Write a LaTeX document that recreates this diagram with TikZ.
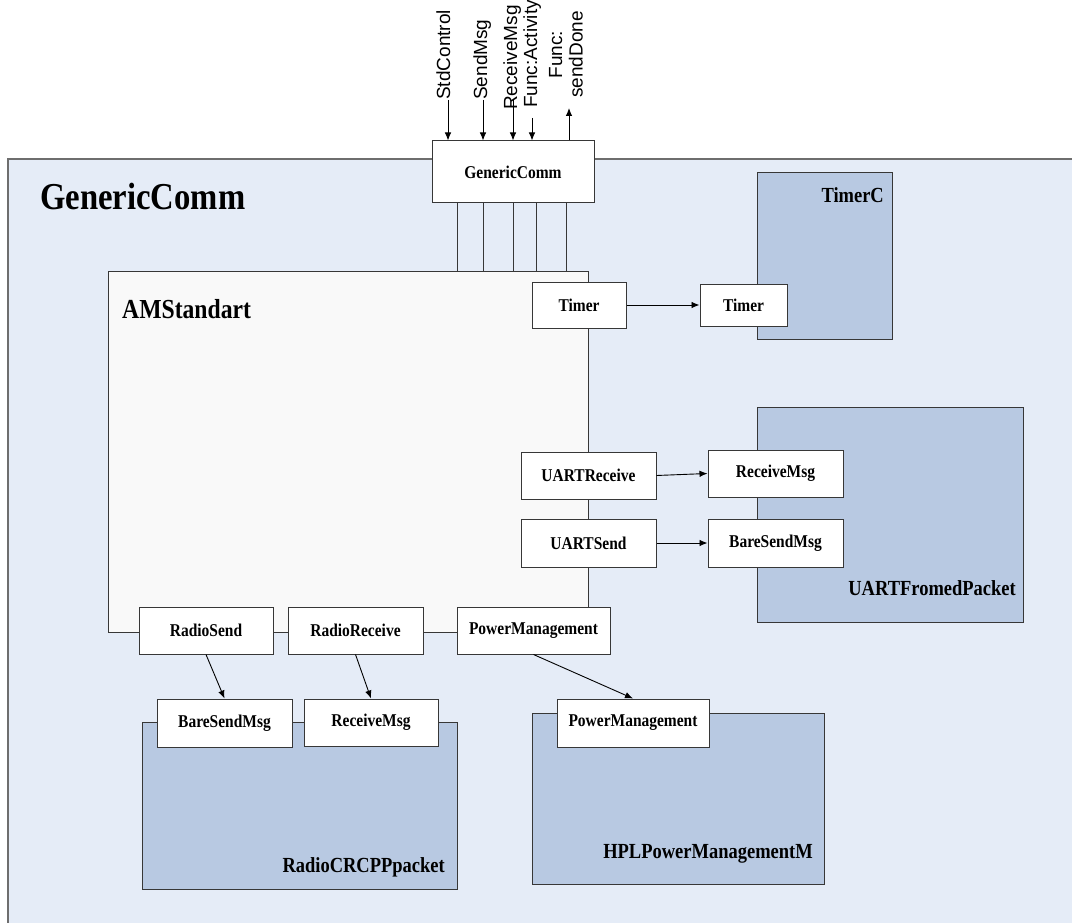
\documentclass[tikz,border=0pt]{standalone}
\usepackage{fontspec}
\setmainfont{Liberation Serif}
\newfontfamily\diaSerif[FakeStretch=0.86]{Liberation Serif}
\newfontfamily\diaSans{Liberation Sans}
\usetikzlibrary{arrows.meta}

\definecolor{framefill}{RGB}{229,236,247}
\definecolor{frameline}{RGB}{110,110,110}
\definecolor{compfill}{RGB}{184,201,226}
\definecolor{modfill}{RGB}{249,249,249}
\definecolor{boxline}{RGB}{55,55,55}

\newcommand{\diaPort}{\diaSerif\bfseries\fontsize{18}{20}\selectfont}
\newcommand{\diaComp}{\diaSerif\bfseries\fontsize{21.5}{24}\selectfont}
\newcommand{\diaTitle}{\diaSerif\bfseries\fontsize{38}{40}\selectfont}
\newcommand{\diaMod}{\diaSerif\bfseries\fontsize{27.5}{30}\selectfont}
\newcommand{\diaSig}{\diaSans\fontsize{19}{20.5}\selectfont}

\tikzset{
  outerframe/.style={draw=frameline, line width=1.8pt, fill=framefill, inner sep=0pt},
  compbox/.style={draw=boxline, line width=1pt, fill=compfill, inner sep=0pt},
  modbox/.style={draw=boxline, line width=1pt, fill=modfill, inner sep=0pt},
  portbox/.style={draw=boxline, line width=1pt, fill=white, inner sep=0pt, font=\diaPort},
  complabel/.style={font=\diaComp, inner sep=0pt, anchor=base east},
  siglabel/.style={font=\diaSig, inner sep=0pt, rotate=90},
  flow/.style={draw=black, line width=0.9pt, -{Latex[length=8pt,width=6.5pt]}},
  wire/.style={draw=boxline, line width=1pt}
}

\begin{document}
\begin{tikzpicture}[x=1pt,y=-1pt]
\useasboundingbox (0,0) rectangle (1072,923);

% outer configuration frame (runs past the right and lower edges)
\begin{scope}
  \clip (0,0) rectangle (1072,923);
  \node[outerframe, minimum width=1082pt, minimum height=781pt] (genericcomm) at (549,549.5) {};
\end{scope}
\node[font=\diaTitle, inner sep=0pt, anchor=base west] (gctitle) at (40,210) {GenericComm};

% wired components
\node[compbox, minimum width=135pt, minimum height=166pt] (timerc) at (824.5,256) {};
\node[compbox, minimum width=266pt, minimum height=215pt] (uartfp) at (890,514.5) {};
\node[compbox, minimum width=315pt, minimum height=167pt] (radiocrc) at (299.5,805.5) {};
\node[compbox, minimum width=292pt, minimum height=171pt] (hpl) at (678,798.5) {};

\node[complabel] (timerclbl) at (884,203) {TimerC};
\node[complabel] (uartfplbl) at (1016,595) {UARTFromedPacket};
\node[complabel] (radiocrclbl) at (445,872) {RadioCRCPPpacket};
\node[complabel] (hpllbl) at (813,858) {HPLPowerManagementM};

% AMStandart module
\node[modbox, minimum width=480pt, minimum height=361pt] (amstd) at (348,451.5) {};
\node[font=\diaMod, inner sep=0pt, anchor=base west] (amstdlbl) at (122,318) {AMStandart};

% interface of the configuration
\node[portbox, minimum width=162pt, minimum height=62pt] (gcport) at (513,172) {GenericComm};

% wires between the configuration interface and AMStandart
\foreach \wx in {457,483,513,536,566}
  \draw[wire] (\wx,0 |- gcport.south) -- (\wx,0 |- amstd.north);

% ports of AMStandart
\node[portbox, minimum width=94pt, minimum height=46pt] (timera) at (579,305) {Timer};
\node[portbox, minimum width=135pt, minimum height=47pt] (uartrecv) at (588.5,475.5) {UARTReceive};
\node[portbox, minimum width=135pt, minimum height=48pt] (uartsend) at (588.5,543) {UARTSend};
\node[portbox, minimum width=134pt, minimum height=47pt] (radiosend) at (206,630.5) {RadioSend};
\node[portbox, minimum width=135pt, minimum height=47pt] (radiorecv) at (355.5,630.5) {RadioReceive};
\node[portbox, minimum width=153pt, minimum height=47pt] (pma) at (533.5,630.5) {PowerManagement};

% ports of the wired components
\node[portbox, minimum width=87pt, minimum height=42pt] (timerb) at (743.5,305) {Timer};
\node[portbox, minimum width=135pt, minimum height=47pt] (recvmsgu) at (775.5,473.5) {ReceiveMsg};
\node[portbox, minimum width=135pt, minimum height=48pt] (baresendu) at (775.5,543) {BareSendMsg};
\node[portbox, minimum width=135pt, minimum height=48pt] (baresendr) at (224.5,723) {BareSendMsg};
\node[portbox, minimum width=134pt, minimum height=47pt] (recvmsgr) at (371,722.5) {ReceiveMsg};
\node[portbox, minimum width=152pt, minimum height=48pt] (pmb) at (633,723) {PowerManagement};

% connections
\draw[flow] (timera.east) -- (timerb.west);
\draw[flow] (uartrecv.east) -- (recvmsgu.west);
\draw[flow] (uartsend.east) -- (baresendu.west);
\draw[flow] (radiosend.south) -- (baresendr.north);
\draw[flow] (radiorecv.south) -- (recvmsgr.north);
\draw[flow] (pma.south) -- (pmb.north);

% external interface signals
\node[siglabel, anchor=base west] (sigstd) at (450,100) {StdControl};
\node[siglabel, anchor=base west] (sigsend) at (487,100) {SendMsg};
\node[siglabel, anchor=base west] (sigrecv) at (517,110) {ReceiveMsg};
\node[siglabel, anchor=base west] (sigact) at (537,108) {Func:Activity};
\node[siglabel, anchor=west, align=center] (sigdone) at (566,98) {Func:\\sendDone};

\coordinate (instd) at (448,100);
\coordinate (insend) at (483,100);
\coordinate (inrecv) at (513,100);
\coordinate (inact) at (532,118);
\coordinate (outdone) at (569,108);

\draw[flow] (instd) -- (instd |- gcport.north);
\draw[flow] (insend) -- (insend |- gcport.north);
\draw[flow] (inrecv) -- (inrecv |- gcport.north);
\draw[flow] (inact) -- (inact |- gcport.north);
\draw[flow] (outdone |- gcport.north) -- (outdone);

\end{tikzpicture}
\end{document}
